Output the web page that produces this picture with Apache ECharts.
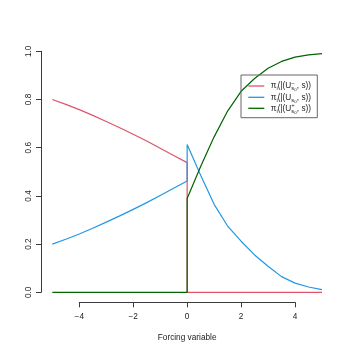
<!DOCTYPE html>
<html><head><meta charset="utf-8">
<script src="https://cdn.jsdelivr.net/npm/echarts@6/dist/echarts.min.js"></script>
<style>html,body{margin:0;padding:0;background:#fff}#c{width:354px;height:354px}</style>
</head><body><div id="c"></div>
<script>
// ---- data ----
const xLeft  = [-5, -4.5, -4, -3.5, -3, -2.5, -2, -1.5, -1, -0.5, 0];
const redLeft   = [0.800, 0.780, 0.758, 0.734, 0.709, 0.683, 0.656, 0.628, 0.598, 0.568, 0.538];
const blueLeft  = [0.200, 0.220, 0.242, 0.266, 0.291, 0.317, 0.344, 0.372, 0.402, 0.432, 0.462];
const greenLeft = [0, 0, 0, 0, 0, 0, 0, 0, 0, 0, 0];

const xRight = [0, 0.5, 1, 1.5, 2, 2.5, 3, 3.5, 4, 4.5, 5];
const redRight   = [0, 0, 0, 0, 0, 0, 0, 0, 0, 0, 0];
const blueRight  = [0.613, 0.486, 0.365, 0.275, 0.212, 0.155, 0.108, 0.065, 0.038, 0.022, 0.011];
const greenRight = [0.389, 0.522, 0.645, 0.752, 0.834, 0.887, 0.930, 0.958, 0.976, 0.985, 0.990];

const xTickValues = [-4, -2, 0, 2, 4];
const xTickLabels = ['\u22124', '\u22122', '0', '2', '4'];
const yTickLabels = ['0.0', '0.2', '0.4', '0.6', '0.8', '1.0'];
const xAxisTitle = 'Forcing variable';
const seriesNames = ['red', 'blue', 'green'];

// ---- chart ----
const FONT = "'Liberation Sans', Arial, Helvetica, sans-serif";
const FS = 8.25;
const AXIS = '#3a3a3a';
const TXT = '#222';
const COLORS = ['#DF536B', '#2297E6', '#006400'];

function pairs(xs, ys) { return xs.map((x, i) => [x, ys[i]]); }
const seriesData = [
  pairs(xLeft, redLeft).concat(pairs(xRight, redRight)),
  pairs(xLeft, blueLeft).concat(pairs(xRight, blueRight)),
  pairs(xLeft, greenLeft).concat(pairs(xRight, greenRight))
];

// text measuring for the legend labels
const mctx = document.createElement('canvas').getContext('2d');
function tw(t, size) { mctx.font = size + 'px ' + FONT; return mctx.measureText(t).width; }

function legendRow(y, sup) {
  const els = [];
  let x = 270.7;
  const SM = 5.8, XS = 4.3;
  function put(t, size, dy, adv) {
    els.push({ type: 'text', z: 100, style: { text: t, x: x, y: y + dy, fill: TXT,
      font: size + 'px ' + FONT, align: 'left', verticalAlign: 'middle' } });
    const w = tw(t, size);
    if (adv) x += w;
    return w;
  }
  put('\u03C0', FS, 0, true);
  put('i', SM, 2.6, true);
  put('(|(U', FS, 0, true);
  const x0 = x;
  let wsup = 0;
  if (sup) { wsup = put(sup, SM, -3.0, false); }
  put('s', SM, 2.6, true);
  put('0', XS, 4.2, true);
  x = Math.max(x, x0 + wsup);
  x += 0.3;
  put(', s))', FS, 0, true);
  return els;
}

const legendEls = [
  { type: 'rect', z: 90, shape: { x: 241, y: 75, width: 76.3, height: 42.7 },
    style: { fill: 'transparent', stroke: '#666', lineWidth: 1 } }
];
const rowY = [86, 97.3, 108.3];
const sups = ['\u2212', null, '+'];
rowY.forEach((y, i) => {
  legendEls.push({ type: 'line', z: 95, shape: { x1: 248.3, y1: y, x2: 264.3, y2: y },
    style: { stroke: COLORS[i], lineWidth: 1.3 } });
  legendRow(y, sups[i]).forEach(e => legendEls.push(e));
});

const chart = echarts.init(document.getElementById('c'), null, { renderer: 'canvas' });
chart.setOption({
  animation: false,
  backgroundColor: '#fff',
  textStyle: { fontFamily: FONT },
  grid: [
    { left: 52.3, top: 51.3, width: 269.7, height: 241 },
    { left: 79.27, top: 51.3, width: 215.73, height: 241 }
  ],
  xAxis: [
    { gridIndex: 0, type: 'value', min: -5, max: 5, show: false },
    { gridIndex: 1, type: 'value', min: -4, max: 4, interval: 2, position: 'bottom', offset: 10,
      axisLine: { show: true, onZero: false, lineStyle: { color: AXIS, width: 1 } },
      axisTick: { show: true, length: 5, lineStyle: { color: AXIS, width: 1 } },
      splitLine: { show: false },
      axisLabel: { show: true, margin: 10.5, color: TXT, fontSize: FS, fontFamily: FONT,
        formatter: v => xTickLabels[xTickValues.indexOf(v)] },
      name: xAxisTitle, nameLocation: 'middle', nameGap: 31,
      nameTextStyle: { color: TXT, fontSize: FS, fontFamily: FONT } }
  ],
  yAxis: [
    { gridIndex: 0, type: 'value', min: 0, max: 1, interval: 0.2, position: 'left', offset: 11.3,
      axisLine: { show: true, onZero: false, lineStyle: { color: AXIS, width: 1 } },
      axisTick: { show: true, length: 5, lineStyle: { color: AXIS, width: 1 } },
      splitLine: { show: false },
      axisLabel: { show: true, rotate: 90, margin: 8.5, color: TXT, fontSize: FS, fontFamily: FONT,
        formatter: (v) => yTickLabels[Math.round(v / 0.2)] } },
    { gridIndex: 1, type: 'value', min: 0, max: 1, show: false }
  ],
  series: seriesData.map((d, i) => ({
    name: seriesNames[i], type: 'line', xAxisIndex: 0, yAxisIndex: 0,
    data: d, showSymbol: false, symbol: 'none', smooth: false,
    lineStyle: { color: COLORS[i], width: 1.2 }, z: 2 + i
  })),
  graphic: legendEls
});
</script>
</body></html>
